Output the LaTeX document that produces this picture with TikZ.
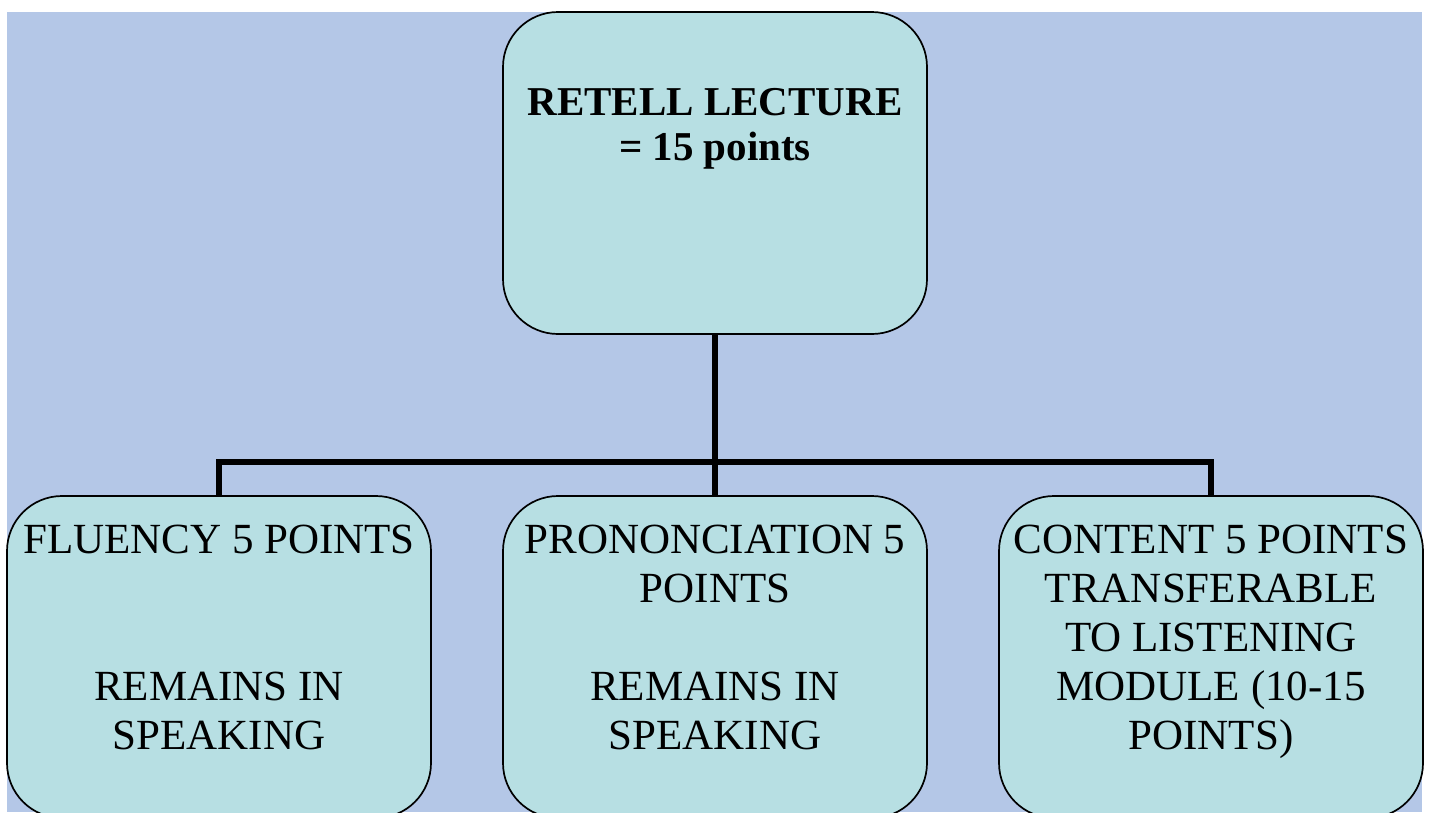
\documentclass[tikz,border=0pt]{standalone}
\usepackage{fontspec}
\setmainfont{Liberation Serif}
\definecolor{bgc}{RGB}{180,199,231}
\definecolor{boxc}{RGB}{183,223,227}
\begin{document}
\begin{tikzpicture}[x=1pt,y=-1pt,
  card/.style={rectangle, draw=black, line width=1.7pt, fill=boxc, rounded corners=55pt,
    minimum width=424pt, minimum height=322pt, inner sep=0pt},
  conn/.style={draw=black, line width=5.5pt},
  toptext/.style={anchor=north, inner sep=0pt, align=center, font=\fontsize{41}{45}\selectfont\bfseries},
  bottext/.style={anchor=north, inner sep=0pt, align=center, font=\fontsize{43}{49}\selectfont}]
\useasboundingbox (0,0) rectangle (1429,812);
\fill[white] (0,0) rectangle (1429,812);
\fill[bgc] (7,12) rectangle (1422,812);
% boxes
\node[card] (top) at (715,173) {};
\node[card] (left) at (219,657) {};
\node[card] (mid) at (715,657) {};
\node[card] (right) at (1211,657) {};
% connectors
\coordinate (bar) at (715,462);
\draw[conn] (top.south) -- (mid.north);
\draw[conn] (left.north) -- (left.north |- bar) -- (right.north |- bar) -- (right.north);
% texts
\node[toptext] (ttop) at (715,75) {\rule{0pt}{40pt}RETELL LECTURE\\= 15 points};
\node[bottext] (tleft) at (219,513) {\rule{0pt}{40pt}FLUENCY 5 POINTS\\\mbox{}\\\mbox{}\\REMAINS IN\\SPEAKING};
\node[bottext] (tmid) at (715,513) {\rule{0pt}{40pt}PRONONCIATION 5\\POINTS\\\mbox{}\\REMAINS IN\\SPEAKING};
\node[bottext] (tright) at (1211,513) {\rule{0pt}{40pt}CONTENT 5 POINTS\\TRANSFERABLE\\TO LISTENING\\MODULE (10-15\\POINTS)};
\end{tikzpicture}
\end{document}
